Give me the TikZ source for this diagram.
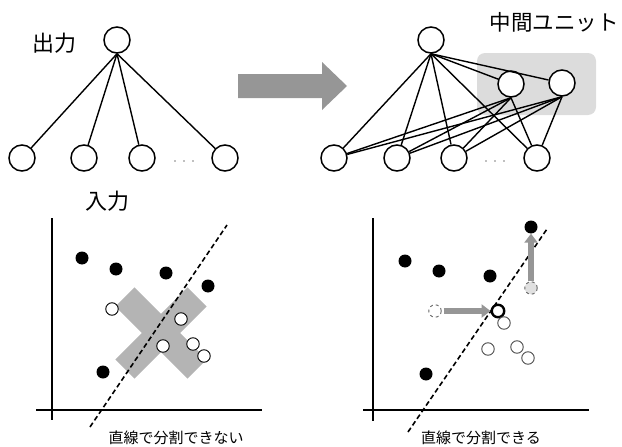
\documentclass[tikz,border=0pt]{standalone}
\usepackage{fontspec}
\usepackage{xcolor}
\usepackage{tikz}
\usetikzlibrary{arrows.meta}
\newfontfamily\jpfont{Noto Sans CJK JP}
\definecolor{arrowgray}{HTML}{969696}
\definecolor{boxgray}{HTML}{DCDCDC}
\definecolor{crossgray}{HTML}{B4B4B4}
\definecolor{ghostgray}{HTML}{E0E0E0}

\begin{document}
\begin{tikzpicture}[x=1pt,y=-1pt,
  unit/.style={circle,draw,line width=1.5pt,fill=white,minimum size=26pt,inner sep=0pt},
  link/.style={line width=1.4pt},
  bdot/.style={circle,fill=black,minimum size=13pt,inner sep=0pt},
  wdot/.style={circle,draw,line width=0.9pt,fill=white,minimum size=12.5pt,inner sep=0pt},
  axisline/.style={line width=2pt},
  sepline/.style={line width=1.6pt,dash pattern=on 5pt off 3pt},
  move/.style={arrowgray,line width=5.5pt,-{Triangle[length=9pt,width=13pt]}},
  jp/.style={font=\jpfont\fontsize{#1}{#1}\selectfont,inner sep=0pt}]
\useasboundingbox (0,0) rectangle (622,447);

\node[unit] (out) at (117,40) {};
\node[unit] (in1) at (22,158) {};
\node[unit] (in2) at (84,158) {};
\node[unit] (in3) at (142,158) {};
\node[unit] (in4) at (225,158) {};
\foreach \i in {1,...,4}
  \draw[link] (out.south) -- (in\i);
\foreach \x in {175,184,193}
  \fill[gray] (\x,161) circle (0.9);
\node[jp=22] (outlabel) at (54,43) {出力};
\node[jp=22] (inlabel) at (107,201) {入力};

\fill[arrowgray] (238,74) -- (322,74) -- (322,62) -- (347,86) -- (322,110) -- (322,98) -- (238,98) -- cycle;

\fill[boxgray, rounded corners=8pt] (477,53) rectangle (596,115);
\node[jp=21.5] (hidlabel) at (554,22) {中間ユニット};
\node[unit] (rout) at (431,40) {};
\node[unit] (h1) at (511,84) {};
\node[unit] (h2) at (562,83) {};
\node[unit] (rin1) at (334,158) {};
\node[unit] (rin2) at (397,158) {};
\node[unit] (rin3) at (454,158) {};
\node[unit] (rin4) at (537,158) {};
\foreach \i in {1,...,4}
  \draw[link] (rout.south) -- (rin\i);
\draw[link] (rout.south) -- (h1);
\draw[link] (rout.south) -- (h2);
\foreach \h in {h1,h2}
  \foreach \i in {1,...,4}
    \draw[link] (\h.south) -- (rin\i);
\foreach \x in {486,495,504}
  \fill[gray] (\x,161) circle (0.9);

\node[fill=crossgray,minimum width=102pt,minimum height=27pt,rotate=45] (barA) at (161,333) {};
\node[fill=crossgray,minimum width=102pt,minimum height=27pt,rotate=-45] (barB) at (161,333) {};
\draw[axisline] (52,218) -- (52,420);
\draw[axisline] (36,410) -- (262,410);
\draw[sepline] (90,427) -- (227,225);
\node[bdot] (a1) at (82,258) {};
\node[bdot] (a2) at (116,269) {};
\node[bdot] (a3) at (166,273) {};
\node[bdot] (a4) at (208,286) {};
\node[bdot] (a5) at (103,372) {};
\node[wdot] (b1) at (112,309) {};
\node[wdot] (b2) at (181,319) {};
\node[wdot] (b3) at (163,346) {};
\node[wdot] (b4) at (193,344) {};
\node[wdot] (b5) at (204,356) {};
\node[jp=15] (nglabel) at (176,438) {直線で分割できない};

\draw[axisline] (373,218) -- (373,421);
\draw[axisline] (363,410) -- (589,410);
\draw[sepline] (408,432) -- (547,229);
\node[bdot] (c1) at (405,261) {};
\node[bdot] (c2) at (439,271) {};
\node[bdot] (c3) at (490,276) {};
\node[bdot] (c4) at (426,374) {};
\node[bdot] (c5) at (531,227) {};
\node[wdot,draw=black!60,fill=ghostgray,dashed] (ghost1) at (531,288) {};
\node[wdot,draw=black!60,dashed] (ghost2) at (435,311) {};
\node[wdot,line width=2.4pt] (d1) at (498,311) {};
\node[wdot,draw=black!70] (d2) at (504,323) {};
\node[wdot,draw=black!70] (d3) at (488,349) {};
\node[wdot,draw=black!70] (d4) at (517,347) {};
\node[wdot,draw=black!70] (d5) at (528,358) {};
\draw[move,shorten <=2pt] (ghost2) -- (d1);
\draw[move] (ghost1) -- (c5);
\node[jp=15] (oklabel) at (481,438) {直線で分割できる};
\end{tikzpicture}
\end{document}
